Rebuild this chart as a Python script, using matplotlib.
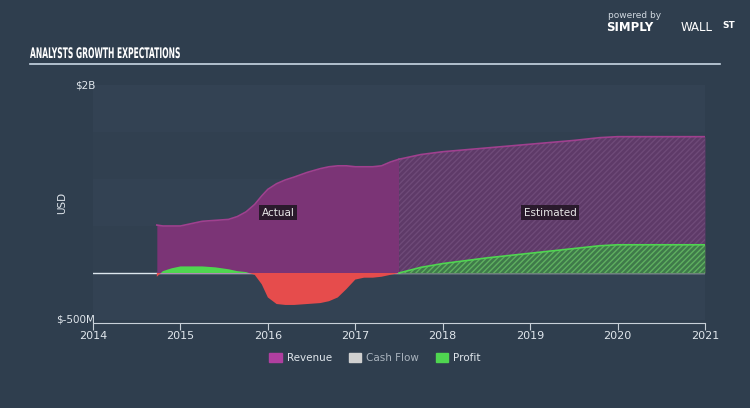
import numpy as np
import matplotlib.pyplot as plt
import matplotlib.transforms as mtransforms
from matplotlib.patches import Patch, PathPatch
from matplotlib.textpath import TextPath
from matplotlib.font_manager import FontProperties

# actual (fractional year, USD billions)
act_years = [2014.73, 2014.8, 2014.9, 2015.0, 2015.1, 2015.25, 2015.4, 2015.55, 2015.65,
             2015.75, 2015.85, 2015.93, 2016.0, 2016.1, 2016.2, 2016.3, 2016.45, 2016.6,
             2016.7, 2016.8, 2016.9, 2017.0, 2017.1, 2017.2, 2017.3, 2017.4, 2017.5]
act_revenue = [0.51, 0.50, 0.50, 0.50, 0.52, 0.55, 0.56, 0.57, 0.60,
               0.65, 0.73, 0.82, 0.89, 0.95, 0.99, 1.02, 1.07, 1.11,
               1.13, 1.14, 1.14, 1.13, 1.13, 1.13, 1.14, 1.18, 1.21]
act_profit = [-0.04, 0.02, 0.05, 0.07, 0.07, 0.07, 0.06, 0.04, 0.02,
              0.01, -0.02, -0.12, -0.26, -0.33, -0.34, -0.34, -0.33, -0.32,
              -0.30, -0.26, -0.17, -0.07, -0.05, -0.05, -0.04, -0.02, 0.0]

# analyst estimates
est_years = [2017.5, 2017.75, 2018.0, 2018.5, 2019.0, 2019.5, 2019.8, 2020.0, 2020.5, 2021.0]
est_revenue = [1.21, 1.26, 1.29, 1.33, 1.37, 1.41, 1.44, 1.45, 1.45, 1.45]
est_profit = [0.0, 0.06, 0.10, 0.16, 0.21, 0.26, 0.29, 0.30, 0.30, 0.30]

bg = '#2f3e4e'
purple = '#7b3476'
purple_est = '#5e3a68'
green = '#4fd650'
green_est = '#3f7a4a'
red = '#e64c4c'

fig = plt.figure(figsize=(7.5, 4.08), dpi=100, facecolor=bg)
ax = fig.add_axes([0.124, 0.2157, 0.816, 0.576])
ax.set_facecolor('#314050')

ax.set_xlim(2014, 2021)
ax.set_ylim(-0.5, 2.0)

# faint horizontal bands
for i, lo in enumerate(np.arange(-0.5, 2.0, 0.5)):
    if i % 2 == 0:
        ax.axhspan(lo, lo + 0.5, color='#334253', lw=0, zorder=0)

ax.axhline(0, color='#dde6ee', lw=1, zorder=1)

# actual revenue
ax.fill_between(act_years, 0, act_revenue, color=purple, lw=0, zorder=2)
ax.plot(act_years, act_revenue, color='#a0408f', lw=1.2, zorder=3)

# actual profit / loss
ap = np.array(act_profit)
ax.fill_between(act_years, 0, ap, where=ap >= 0, interpolate=True, color=green, lw=0, zorder=4)
ax.fill_between(act_years, 0, ap, where=ap < 0, interpolate=True, color=red, lw=0, zorder=4)

# estimated revenue (hatched)
ax.fill_between(est_years, 0, est_revenue, color=purple_est, lw=0, zorder=2)
ax.fill_between(est_years, 0, est_revenue, facecolor='none', edgecolor='#6e4a78',
                hatch='//////', lw=0, zorder=2)
ax.plot(est_years, est_revenue, color='#a0408f', lw=1.2, zorder=3)

# estimated profit (hatched)
ax.fill_between(est_years, 0, est_profit, color=green_est, lw=0, zorder=4)
ax.fill_between(est_years, 0, est_profit, facecolor='none', edgecolor='#5fb060',
                hatch='//////', lw=0, zorder=4)
ax.plot(est_years, est_profit, color=green, lw=1.2, zorder=5)

box = dict(boxstyle='square,pad=0.25', fc='#2a1a2c', ec='none')
ax.text(2016.12, 0.64, 'Actual', color='#e8e8e8', fontsize=7.5, ha='center', va='center', bbox=box, zorder=6)
ax.text(2019.23, 0.64, 'Estimated', color='#e8e8e8', fontsize=7.5, ha='center', va='center', bbox=box, zorder=6)

for s in ['top', 'right', 'left']:
    ax.spines[s].set_visible(False)
ax.spines['bottom'].set_color('#c8d0d8')
ax.spines['bottom'].set_position(('outward', 2))
ax.set_xticks(range(2014, 2022))
ax.tick_params(axis='x', colors='#c8d0d8', labelcolor='#e0e6ec', labelsize=8, length=5, pad=1)
ax.set_yticks([])

fig.text(0.127, 0.791, '$2B', color='#e0e6ec', fontsize=7.5, ha='right', va='center')
fig.text(0.127, 0.2157, '$-500M', color='#e0e6ec', fontsize=7.5, ha='right', va='center')
fig.text(0.083, 0.502, 'USD', color='#e0e6ec', fontsize=7.5, rotation=90, ha='center', va='center')

# title, squeezed horizontally to look like a condensed face
tp = TextPath((0, 0), 'ANALYSTS GROWTH EXPECTATIONS', size=10.5,
              prop=FontProperties(family='DejaVu Sans', weight='bold'))
k = fig.dpi / 72
tr = mtransforms.Affine2D().scale(0.52 * k, k).translate(30, 408 - 58)
fig.add_artist(PathPatch(tp, transform=tr, fc='white', ec='none'))
fig.add_artist(plt.Line2D([0.04, 0.96], [0.843, 0.843], color='#c8d6e4', lw=1.2))

# logo text
fig.text(0.81, 0.962, 'powered by', color='#d0d8e0', fontsize=6.5, ha='left', va='center')
fig.text(0.808, 0.932, 'SIMPLY', color='white', fontsize=8.5, fontweight='bold', ha='left', va='center')
fig.text(0.907, 0.932, 'WALL', color='white', fontsize=8.5, ha='left', va='center')
fig.text(0.963, 0.937, 'ST', color='white', fontsize=6.5, fontweight='bold', ha='left', va='center')

handles = [Patch(color='#b03fa0', label='Revenue'),
           Patch(color='#d0d0d0', label='Cash Flow'),
           Patch(color=green, label='Profit')]
leg = fig.legend(handles=handles, loc='center', bbox_to_anchor=(0.5, 0.123), ncol=3,
                 frameon=False, fontsize=7.5, handlelength=1.2, handleheight=0.9,
                 columnspacing=1.6, handletextpad=0.5)
for t, c in zip(leg.get_texts(), ['#e0e6ec', '#aab4be', '#e0e6ec']):
    t.set_color(c)

fig.savefig('out.png', dpi=100, facecolor=bg)
